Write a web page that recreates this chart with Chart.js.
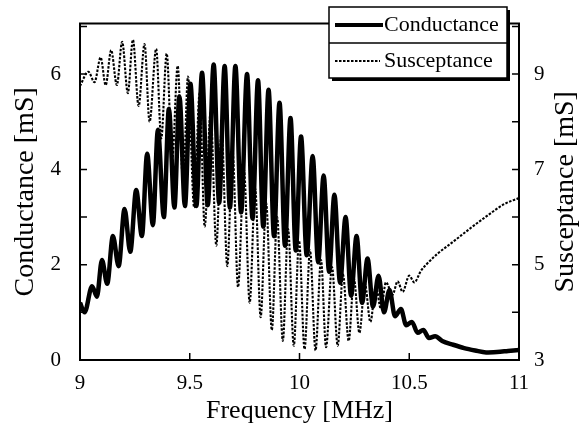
<!DOCTYPE html>
<html>
<head>
<meta charset="utf-8">
<script src="https://cdn.jsdelivr.net/npm/chart.js@4"></script>
<style>
  html, body { margin: 0; padding: 0; background: #fff; }
  #plot { display: block; }
</style>
</head>
<body>
<canvas id="plot" width="588" height="435"></canvas>
<script>
// conductance curve: peaks and troughs
var condFreq = [9.0, 9.021, 9.055, 9.077, 9.10, 9.124, 9.15, 9.176, 9.203, 9.229, 9.256, 9.282, 9.306, 9.332, 9.355, 9.382, 9.405, 9.43, 9.453, 9.478,
  9.503, 9.53, 9.556, 9.582, 9.609, 9.634, 9.659, 9.683, 9.708, 9.734, 9.761, 9.786, 9.811, 9.835, 9.859, 9.884, 9.909, 9.934, 9.959, 9.983,
  10.007, 10.033, 10.06, 10.085, 10.11, 10.135, 10.159, 10.185, 10.21, 10.235, 10.26, 10.285, 10.31, 10.335, 10.36, 10.385, 10.41, 10.435, 10.462, 10.486,
  10.512, 10.538, 10.564, 10.59, 10.618, 10.65, 10.7, 10.75, 10.8, 10.85, 10.9, 10.95, 11.0];
var condValue = [1.2, 1.0, 1.55, 1.33, 2.1, 1.6, 2.6, 1.97, 3.17, 2.27, 3.57, 2.6, 4.33, 2.83, 4.83, 3.0, 5.27, 3.2, 5.53, 3.23,
  5.8, 3.23, 6.03, 3.25, 6.2, 3.3, 6.17, 3.2, 6.17, 3.1, 6.0, 2.97, 5.87, 2.8, 5.67, 2.6, 5.4, 2.4, 5.08, 2.3,
  4.69, 2.2, 4.28, 2.05, 3.87, 1.85, 3.47, 1.62, 3.0, 1.35, 2.6, 1.2, 2.13, 1.12, 1.77, 1.0, 1.47, 0.92, 1.07, 0.73,
  0.8, 0.57, 0.63, 0.46, 0.5, 0.4, 0.32, 0.25, 0.2, 0.16, 0.17, 0.19, 0.21];

// susceptance curve (right axis)
var suscFreq = [9.0, 9.038, 9.066, 9.094, 9.117, 9.142, 9.168, 9.192, 9.218, 9.241, 9.267, 9.294, 9.317, 9.347, 9.37, 9.395, 9.42, 9.445, 9.47, 9.492,
  9.52, 9.545, 9.568, 9.595, 9.621, 9.645, 9.671, 9.695, 9.72, 9.747, 9.773, 9.798, 9.823, 9.848, 9.874, 9.898, 9.924, 9.948, 9.974, 9.998,
  10.023, 10.048, 10.073, 10.098, 10.121, 10.148, 10.174, 10.198, 10.224, 10.248, 10.273, 10.298, 10.323, 10.348, 10.371, 10.394, 10.424, 10.447, 10.47, 10.5,
  10.523, 10.553, 10.583, 10.629, 10.705, 10.78, 10.856, 10.932, 11.0];
var suscValue = [8.75, 9.05, 8.83, 9.35, 8.77, 9.5, 8.77, 9.68, 8.6, 9.72, 8.33, 9.63, 8.0, 9.53, 7.65, 9.43, 7.2, 9.17, 6.7, 8.95,
  6.2, 8.6, 5.8, 8.2, 5.4, 7.8, 4.97, 7.4, 4.53, 7.0, 4.2, 6.6, 3.9, 6.3, 3.63, 6.0, 3.4, 5.75, 3.3, 5.5,
  3.23, 5.3, 3.2, 5.1, 3.27, 4.95, 3.3, 4.8, 3.4, 4.7, 3.57, 4.6, 3.8, 4.55, 4.07, 4.63, 4.37, 4.65, 4.43, 4.77,
  4.63, 4.87, 5.03, 5.23, 5.5, 5.77, 6.03, 6.27, 6.4];

var seriesNames = ["Conductance", "Susceptance"];
var xTicks = [9, 9.5, 10, 10.5, 11];
var leftLabels = [0, 2, 4, 6];
var rightLabels = [3, 5, 7, 9];
var rightTitle = "Susceptance [mS]";

var serif = "'Liberation Serif', 'DejaVu Serif', serif";

function toPoints(xs, ys) {
    var pts = [];
    for (var i = 0; i < xs.length; i++) {
        pts.push({x: xs[i], y: ys[i]});
    }
    return pts;
}

// inward tick marks, top frame line, right title and the boxed legend
var framePlugin = {
    id: "frame",
    afterDraw: function(chart) {
        var ctx = chart.ctx;
        var area = chart.chartArea;
        var sx = chart.scales.x, sl = chart.scales.y, sr = chart.scales.y2;
        ctx.save();
        ctx.strokeStyle = "#000";
        ctx.lineWidth = 2;
        ctx.beginPath();
        ctx.moveTo(area.left - 1, area.top);
        ctx.lineTo(area.right + 1, area.top);
        ctx.stroke();

        ctx.lineWidth = 1.5;
        ctx.beginPath();
        sl.ticks.forEach(function(t) {
            var y = sl.getPixelForValue(t.value);
            ctx.moveTo(area.left, y);
            ctx.lineTo(area.left + 7, y);
        });
        sr.ticks.forEach(function(t) {
            var y = sr.getPixelForValue(t.value);
            ctx.moveTo(area.right, y);
            ctx.lineTo(area.right - 7, y);
        });
        sx.ticks.forEach(function(t) {
            var x = sx.getPixelForValue(t.value);
            ctx.moveTo(x, area.bottom);
            ctx.lineTo(x, area.bottom - 7);
        });
        ctx.stroke();

        // right axis title reads bottom to top, like the left one
        ctx.save();
        ctx.translate(566, (area.top + area.bottom) / 2);
        ctx.rotate(-Math.PI / 2);
        ctx.fillStyle = "#000";
        ctx.font = "28px " + serif;
        ctx.textAlign = "center";
        ctx.textBaseline = "middle";
        ctx.fillText(rightTitle, 0, 0);
        ctx.restore();

        // legend box with shadow
        var lx = 329, ly = 7, lw = 178, lh = 71;
        ctx.fillStyle = "#000";
        ctx.fillRect(lx + 3, ly + 3, lw, lh);
        ctx.fillStyle = "#fff";
        ctx.fillRect(lx, ly, lw, lh);
        ctx.lineWidth = 1.5;
        ctx.strokeRect(lx, ly, lw, lh);
        ctx.beginPath();
        ctx.moveTo(lx, ly + 36);
        ctx.lineTo(lx + lw, ly + 36);
        ctx.stroke();

        ctx.lineWidth = 4;
        ctx.beginPath();
        ctx.moveTo(lx + 6, ly + 18);
        ctx.lineTo(lx + 54, ly + 18);
        ctx.stroke();
        ctx.lineWidth = 2;
        ctx.setLineDash([2.5, 1.5]);
        ctx.beginPath();
        ctx.moveTo(lx + 6, ly + 54);
        ctx.lineTo(lx + 51, ly + 54);
        ctx.stroke();
        ctx.setLineDash([]);

        ctx.fillStyle = "#000";
        ctx.font = "22px " + serif;
        ctx.textBaseline = "middle";
        ctx.fillText(seriesNames[0], lx + 55, ly + 18);
        ctx.fillText(seriesNames[1], lx + 55, ly + 54);
        ctx.restore();
    }
};

var ctx = document.getElementById("plot");
var myChart = new Chart(ctx, {
    type: "line",
    data: {
        datasets: [{
            label: seriesNames[0],
            data: toPoints(condFreq, condValue),
            yAxisID: "y",
            borderColor: "#000",
            borderWidth: 4.5,
            pointRadius: 0,
            cubicInterpolationMode: "monotone",
            fill: false
        }, {
            label: seriesNames[1],
            data: toPoints(suscFreq, suscValue),
            yAxisID: "y2",
            borderColor: "#000",
            borderWidth: 2.1,
            borderDash: [2.5, 1.5],
            pointRadius: 0,
            cubicInterpolationMode: "monotone",
            fill: false
        }]
    },
    options: {
        responsive: false,
        animation: false,
        layout: {padding: {top: 7, right: 0, left: 0, bottom: 0}},
        plugins: {legend: {display: false}, tooltip: {enabled: false}},
        scales: {
            x: {
                type: "linear",
                min: 9,
                max: 11,
                afterFit: function(s) { s.height = 75; },
                afterBuildTicks: function(s) {
                    s.ticks = xTicks.map(function(v) { return {value: v}; });
                },
                grid: {display: false},
                border: {display: true, color: "#000", width: 2},
                ticks: {
                    color: "#000",
                    font: {family: serif, size: 21},
                    padding: 3,
                    maxRotation: 0,
                    callback: function(v) { return String(v); }
                },
                title: {
                    display: true,
                    text: "Frequency [MHz]",
                    color: "#000",
                    font: {family: serif, size: 26},
                    padding: {top: 0, bottom: 8}
                }
            },
            y: {
                position: "left",
                min: 0,
                max: 7.06,
                afterFit: function(s) { s.width = 80; },
                grid: {display: false},
                border: {display: true, color: "#000", width: 2},
                ticks: {
                    stepSize: 1,
                    includeBounds: false,
                    color: "#000",
                    font: {family: serif, size: 21},
                    padding: 11,
                    callback: function(v) { return leftLabels.indexOf(v) >= 0 ? String(v) : ""; }
                },
                title: {
                    display: true,
                    text: "Conductance [mS]",
                    color: "#000",
                    font: {family: serif, size: 28},
                    padding: {top: 9, bottom: 0}
                }
            },
            y2: {
                position: "right",
                min: 3,
                max: 10.06,
                afterFit: function(s) { s.width = 69; },
                grid: {display: false},
                border: {display: true, color: "#000", width: 2},
                ticks: {
                    stepSize: 1,
                    includeBounds: false,
                    color: "#000",
                    font: {family: serif, size: 21},
                    padding: 7,
                    callback: function(v) { return rightLabels.indexOf(v) >= 0 ? String(v) : ""; }
                },
                title: {display: false}
            }
        }
    },
    plugins: [framePlugin]
});
</script>
</body>
</html>
